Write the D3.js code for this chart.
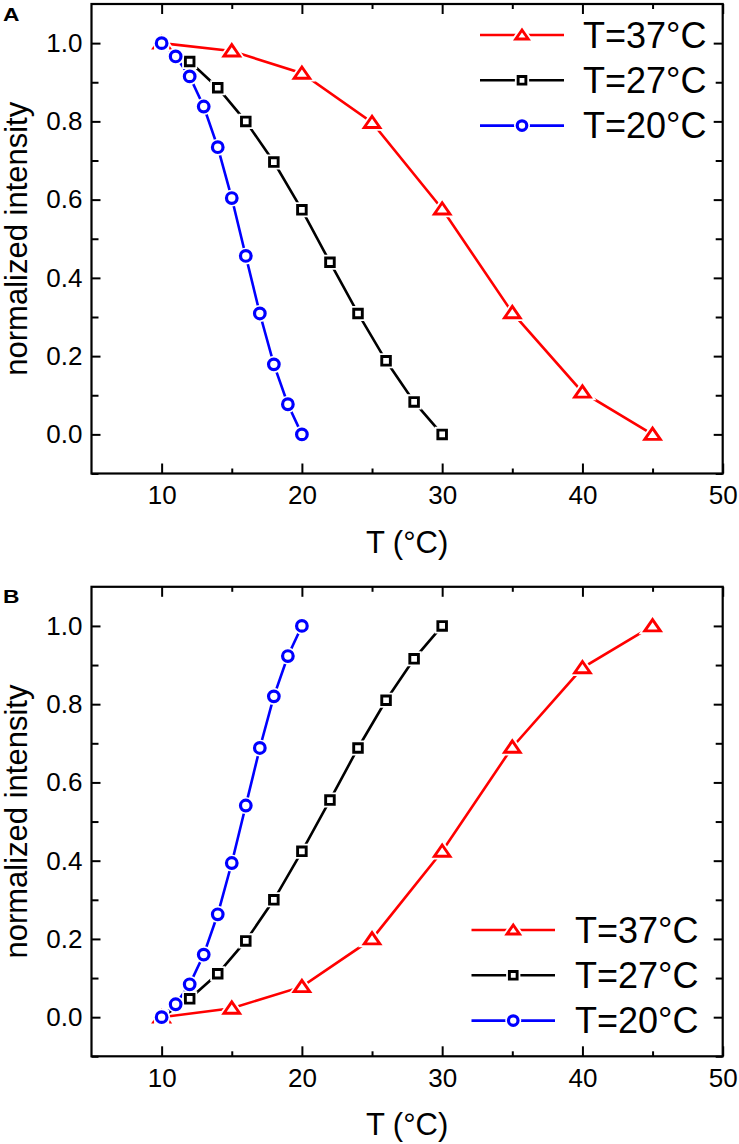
<!DOCTYPE html>
<html>
<head>
<meta charset="utf-8">
<script src="https://cdn.jsdelivr.net/npm/d3@7"></script>
<style>
  html, body { margin: 0; padding: 0; background: #fff; }
  svg { display: block; }
  text { font-family: "Liberation Sans", Arial, sans-serif; fill: #000; }
</style>
</head>
<body>
<svg id="chart" width="739" height="1144"></svg>
<script>
// ---------- data ----------
const seriesNames = ["T=37°C", "T=27°C", "T=20°C"];
const seriesColors = ["#ff0000", "#000000", "#0000ff"];
const seriesShapes = ["triangle", "square", "circle"];

const xRed = [10, 15, 20, 25, 30, 35, 40, 45];
const xBlack = [10, 12, 14, 16, 18, 20, 22, 24, 26, 28, 30];
const xBlue = [10, 11, 12, 13, 14, 15, 16, 17, 18, 19, 20];

// Panel A (decreasing)
const aRed = [1.0, 0.98, 0.923, 0.797, 0.576, 0.311, 0.108, 0.0];
const aBlack = [1.0, 0.953, 0.886, 0.80, 0.696, 0.574, 0.44, 0.309, 0.188, 0.083, 0.0];
const aBlue = [1.0, 0.966, 0.915, 0.838, 0.734, 0.604, 0.456, 0.309, 0.179, 0.077, 0.0];

// Panel B (increasing)
const bRed = [0.0, 0.023, 0.078, 0.200, 0.424, 0.690, 0.893, 1.0];
const bBlack = [0.0, 0.047, 0.111, 0.195, 0.30, 0.424, 0.555, 0.688, 0.81, 0.916, 1.0];
const bBlue = [0.0, 0.033, 0.084, 0.160, 0.263, 0.394, 0.541, 0.688, 0.82, 0.923, 1.0];

const xTicks = [10, 20, 30, 40, 50];
const xMinorTicks = [15, 25, 35, 45];
const yTicks = [0.0, 0.2, 0.4, 0.6, 0.8, 1.0];
const yMinorTicks = [-0.1, 0.1, 0.3, 0.5, 0.7, 0.9];
const xDomain = [5, 50];
const yDomain = [-0.1, 1.1];
const xTitle = "T (°C)";
const yTitle = "normalized intensity";

// ---------- layout ----------
const svg = d3.select("#chart");
const plotLeft = 91.5, plotRight = 722.7, plotH = 469.5;

function markerPath(shape, s) {
  if (shape === "triangle") return `M0,${-6.3*s}L${7.8*s},${5*s}L${-7.8*s},${5*s}Z`;
  if (shape === "square") return `M${-4.3*s},${-4.3*s}H${4.3*s}V${4.3*s}H${-4.3*s}Z`;
  return d3.symbol().type(d3.symbolCircle).size(Math.PI * 5.3 * 5.3 * s * s)();
}

function drawMarker(g, shape, color, x, y, s) {
  // white halo to create gap in line (Origin style)
  g.append("path").attr("d", markerPath(shape, s))
    .attr("transform", `translate(${x},${y})`)
    .attr("fill", "#fff").attr("stroke", "#fff").attr("stroke-width", 6.5);
  g.append("path").attr("d", markerPath(shape, s))
    .attr("transform", `translate(${x},${y})`)
    .attr("fill", "#fff").attr("stroke", color)
    .attr("stroke-width", shape === "circle" ? 3.2 : 2.9)
    .attr("stroke-linejoin", "miter");
}

function drawPanel(top, label, series, legend) {
  const bottom = top + plotH;
  const x = d3.scaleLinear().domain(xDomain).range([plotLeft, plotRight]);
  const y = d3.scaleLinear().domain(yDomain).range([bottom, top]);
  const g = svg.append("g");

  // axes (inside ticks)
  const fmtY = d3.format(".1f");
  g.append("g").attr("transform", `translate(0,${bottom})`)
    .call(d3.axisBottom(x).tickValues(xTicks).tickSize(-10).tickPadding(12).tickFormat(d3.format("d")));
  g.append("g").attr("transform", `translate(0,${bottom})`)
    .call(d3.axisBottom(x).tickValues(xMinorTicks).tickSize(-5).tickFormat(""));
  g.append("g").attr("transform", `translate(0,${top})`)
    .call(d3.axisTop(x).tickValues(xTicks).tickSize(-10).tickFormat(""));
  g.append("g").attr("transform", `translate(0,${top})`)
    .call(d3.axisTop(x).tickValues(xMinorTicks).tickSize(-5).tickFormat(""));
  g.append("g").attr("transform", `translate(${plotLeft},0)`)
    .call(d3.axisLeft(y).tickValues(yTicks).tickSize(-9).tickPadding(9).tickFormat(fmtY));
  g.append("g").attr("transform", `translate(${plotLeft},0)`)
    .call(d3.axisLeft(y).tickValues(yMinorTicks).tickSize(-7).tickFormat(""));
  g.append("g").attr("transform", `translate(${plotRight},0)`)
    .call(d3.axisRight(y).tickValues(yTicks).tickSize(-9).tickFormat(""));
  g.append("g").attr("transform", `translate(${plotRight},0)`)
    .call(d3.axisRight(y).tickValues(yMinorTicks).tickSize(-7).tickFormat(""));

  g.selectAll(".domain").remove();
  g.selectAll(".tick line").attr("stroke", "#000").attr("stroke-width", 2);
  g.selectAll(".tick text").attr("font-size", 26)
    .style("font-family", '"Liberation Sans", Arial, sans-serif').attr("fill", "#000");

  // frame
  g.append("rect").attr("x", plotLeft).attr("y", top)
    .attr("width", plotRight - plotLeft).attr("height", plotH)
    .attr("fill", "none").attr("stroke", "#000").attr("stroke-width", 2.2);

  // series
  const line = d3.line().x(d => x(d[0])).y(d => y(d[1]));
  series.forEach((s, i) => {
    const pts = s.xs.map((v, k) => [v, s.ys[k]]);
    g.append("path").datum(pts).attr("d", line)
      .attr("fill", "none").attr("stroke", seriesColors[i]).attr("stroke-width", 2.6);
  });
  series.forEach((s, i) => {
    s.xs.forEach((v, k) => drawMarker(g, seriesShapes[i], seriesColors[i], x(v), y(s.ys[k]), 1));
  });

  // legend
  seriesNames.forEach((name, i) => {
    const ry = legend.y0 + i * legend.dy;
    g.append("line").attr("x1", legend.x1).attr("x2", legend.x2)
      .attr("y1", ry).attr("y2", ry)
      .attr("stroke", seriesColors[i]).attr("stroke-width", 2.6);
    drawMarker(g, seriesShapes[i], seriesColors[i], (legend.x1 + legend.x2) / 2, ry,
      seriesShapes[i] === "triangle" ? 0.8 : 0.9);
    g.append("text").attr("x", legend.tx).attr("y", ry + 12.5)
      .attr("font-size", 36).text(name);
  });

  // axis titles
  g.append("text").attr("x", (plotLeft + plotRight) / 2).attr("y", bottom + 79)
    .attr("text-anchor", "middle").attr("font-size", 31).text(xTitle);
  g.append("text")
    .attr("transform", `translate(27,${(top + bottom) / 2}) rotate(-90)`)
    .attr("text-anchor", "middle").attr("font-size", 31).text(yTitle);

  // panel label
  g.append("text").attr("transform", `translate(3,${top + 16.5}) scale(1.2,1)`)
    .attr("font-size", 19).attr("font-weight", "bold").text(label);
}

drawPanel(4, "A",
  [{xs: xRed, ys: aRed}, {xs: xBlack, ys: aBlack}, {xs: xBlue, ys: aBlue}],
  {x1: 480, x2: 564, y0: 35, dy: 45.3, tx: 583});

drawPanel(586.8, "B",
  [{xs: xRed, ys: bRed}, {xs: xBlack, ys: bBlack}, {xs: xBlue, ys: bBlue}],
  {x1: 471.5, x2: 555, y0: 930, dy: 45.3, tx: 575});
</script>
</body>
</html>
